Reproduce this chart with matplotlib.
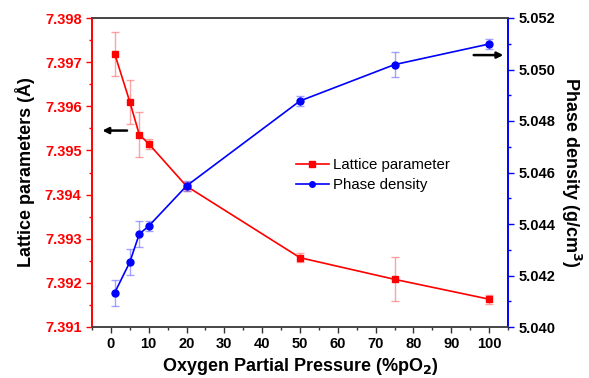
import matplotlib
matplotlib.use("Agg")
import matplotlib.pyplot as plt
from matplotlib.ticker import MultipleLocator, FormatStrFormatter

plt.rcParams['font.family'] = ['Liberation Sans', 'DejaVu Sans']

x = [1, 5, 7.5, 10, 20, 50, 75, 100]
lattice = [7.39719, 7.39610, 7.39536, 7.39515, 7.39419, 7.39257, 7.39208, 7.39163]
lattice_err = [0.0005, 0.0005, 0.0005, 0.00012, 0.0001, 0.0001, 0.0005, 0.0001]
density = [5.04133, 5.04252, 5.04361, 5.04392, 5.04548, 5.04878, 5.05019, 5.05099]
density_err = [0.0005, 0.0005, 0.0005, 0.0002, 0.0002, 0.0002, 0.0005, 0.0002]

fig = plt.figure(figsize=(5.89, 3.78), dpi=100)
ax = fig.add_axes([92/589, 1 - 327/378, (508 - 92)/589, (327 - 18)/378])
ax2 = ax.twinx()

red = '#ff0000'
blue = '#0000ff'

ax.errorbar(x, lattice, yerr=lattice_err, fmt='none', ecolor=(1, 0.4, 0.4, 0.6),
            elinewidth=1, capsize=3, capthick=1, zorder=2)
l1, = ax.plot(x, lattice, color=red, marker='s', markersize=5, linewidth=1.2,
              label='Lattice parameter', zorder=3)
ax2.errorbar(x, density, yerr=density_err, fmt='none', ecolor=(0.4, 0.4, 1, 0.6),
             elinewidth=1, capsize=3, capthick=1, zorder=2)
l2, = ax2.plot(x, density, color=blue, marker='o', markersize=5, linewidth=1.2,
               label='Phase density', zorder=3)

ax.set_xlim(-5, 105)
ax.set_ylim(7.391, 7.398)
ax2.set_ylim(5.040, 5.052)

ax.xaxis.set_major_locator(MultipleLocator(10))
ax.xaxis.set_minor_locator(MultipleLocator(5))
ax.yaxis.set_major_locator(MultipleLocator(0.001))
ax.yaxis.set_minor_locator(MultipleLocator(0.0005))
ax.yaxis.set_major_formatter(FormatStrFormatter('%.3f'))
ax2.yaxis.set_major_locator(MultipleLocator(0.002))
ax2.yaxis.set_minor_locator(MultipleLocator(0.001))
ax2.yaxis.set_major_formatter(FormatStrFormatter('%.3f'))

for a in (ax, ax2):
    a.tick_params(which='major', direction='out', length=4, width=1)
    a.tick_params(which='minor', direction='out', length=2.5, width=1)

ax.tick_params(axis='y', which='both', colors=red, labelcolor=red)
ax.tick_params(axis='x', which='both', colors='#333333', labelcolor='black')
ax2.tick_params(axis='y', which='both', colors=blue, labelcolor='black')

for lab in ax.get_xticklabels() + ax.get_yticklabels() + ax2.get_yticklabels():
    lab.set_fontweight('bold')
    lab.set_fontsize(10.5)

ax.spines['left'].set_color(red)
ax2.spines['left'].set_color(red)
ax2.spines['right'].set_color(blue)
ax.spines['right'].set_color(blue)
for a in (ax, ax2):
    a.spines['top'].set_color('#444444')
    a.spines['bottom'].set_color('#444444')
    for s in a.spines.values():
        s.set_linewidth(1.2)

ax.set_xlabel('Oxygen Partial Pressure (%pO$_\\mathbf{2}$)', fontsize=13, fontweight='bold', labelpad=3)
ax.set_ylabel('Lattice parameters (Å)', fontsize=13, fontweight='bold', labelpad=7)
ax2.set_ylabel('Phase density (g/cm$^\\mathbf{3}$)', fontsize=13, fontweight='bold',
               rotation=270, labelpad=20)

ax.annotate('', xy=(-3, 7.39545), xytext=(5, 7.39545),
            arrowprops=dict(arrowstyle='-|>', color='black', lw=1.8, mutation_scale=9))
ax2.annotate('', xy=(104.5, 5.05056), xytext=(95.2, 5.05056),
             arrowprops=dict(arrowstyle='-|>', color='black', lw=1.8, mutation_scale=9))

leg = ax.legend(handles=[l1, l2], loc='upper left', bbox_to_anchor=(0.475, 0.567),
                frameon=False, fontsize=10.8, handlelength=2.2, handletextpad=0.3,
                labelspacing=0.4, borderaxespad=0)
for h in leg.legend_handles:
    h.set_markersize(4)

fig.savefig('out.png', dpi=100)
